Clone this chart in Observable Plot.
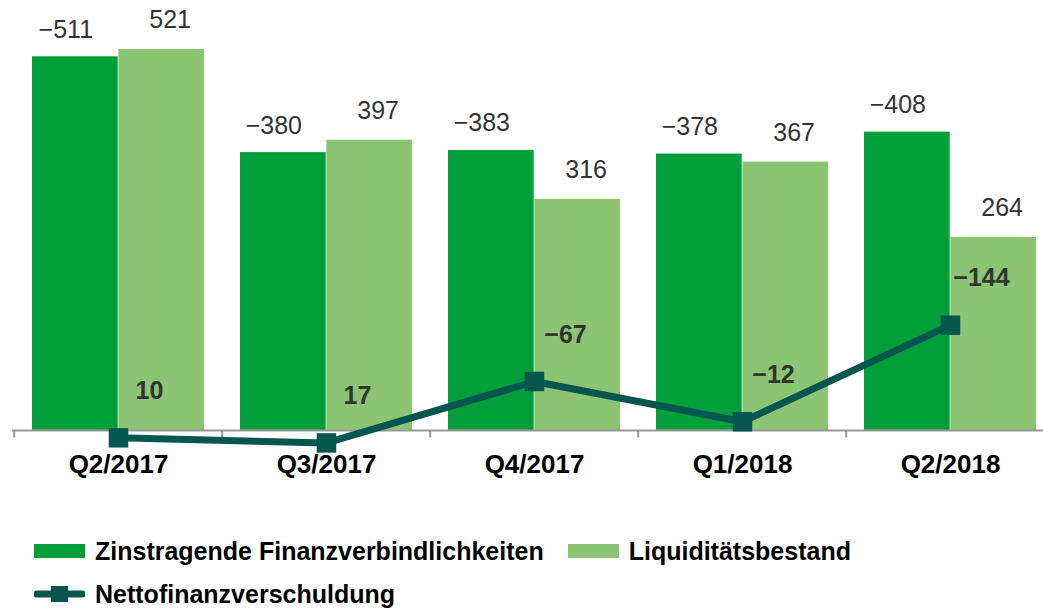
<!DOCTYPE html>
<html>
<head>
<meta charset="utf-8">
<script src="https://cdn.jsdelivr.net/npm/d3@7"></script>
<script src="https://cdn.jsdelivr.net/npm/@observablehq/plot@0.6"></script>
<style>
  body { margin: 0; background: #fff; font-family: "Liberation Sans", Arial, sans-serif; }
  #wrap { position: relative; width: 1043px; height: 608px; overflow: hidden; }
  #chart { position: absolute; left: 0; top: 0; }
  .legend { position: absolute; left: 34px; font-weight: bold; font-size: 25px; line-height: 28px; color: #000; display: flex; align-items: center; white-space: nowrap; }
  .sw { display: inline-block; width: 51px; height: 14px; margin-right: 10px; }
</style>
</head>
<body>
<div id="wrap">
  <div id="chart"></div>
  <div class="legend" style="top:537px">
    <span class="sw" style="background:#009f3a"></span><span>Zinstragende Finanzverbindlichkeiten</span>
    <span class="sw" style="background:#8bc473;margin-left:24px"></span><span>Liquiditätsbestand</span>
  </div>
  <div class="legend" style="top:580px">
    <svg width="51" height="20" style="margin-right:10px"><line x1="3" y1="10" x2="48" y2="10" stroke="#065650" stroke-width="7" stroke-linecap="round"/><rect x="17" y="2" width="17" height="16" fill="#065650"/></svg><span>Nettofinanzverschuldung</span>
  </div>
</div>
<script>
const quarters = ["Q2/2017", "Q3/2017", "Q4/2017", "Q1/2018", "Q2/2018"];
const debt = [-511, -380, -383, -378, -408];      // Zinstragende Finanzverbindlichkeiten
const liquidity = [521, 397, 316, 367, 264];      // Liquiditätsbestand
const netDebt = [10, 17, -67, -12, -144];         // Nettofinanzverschuldung

const fmt = v => (v < 0 ? "\u2212" + Math.abs(v) : String(v));
const rows = quarters.map((q, i) => ({q, debt: debt[i], liq: liquidity[i], net: netDebt[i]}));

const x0 = 12, x1 = 1055;
const bw = (x1 - x0) / quarters.length;
const pad = 18;
const half = bw / 2;

const chart = Plot.plot({
  width: 1043,
  height: 500,
  marginLeft: 12,
  marginRight: 0,
  marginTop: 0,
  marginBottom: 0,
  x: {type: "band", domain: quarters, range: [x0, x1], padding: 0, axis: null},
  y: {domain: [0, 588], range: [430, 0], axis: null},
  style: {fontFamily: "'Liberation Sans', Arial, sans-serif", background: "transparent"},
  marks: [
    Plot.barY(rows, {x: "q", y: d => Math.abs(d.debt), fill: "#009f3a", insetLeft: pad, insetRight: half}),
    Plot.barY(rows, {x: "q", y: "liq", fill: "#8bc473", insetLeft: half, insetRight: pad}),
    Plot.ruleY([0], {stroke: "#999", strokeWidth: 2}),
    Plot.ruleX(quarters, {x: d => d, y1: 0, y2: -10, stroke: "#999", strokeWidth: 2, dx: -half}),
    Plot.text(rows, {x: "q", y: d => Math.abs(d.debt), text: d => fmt(d.debt), dx: -(half - pad) / 2 - pad / 2 - 0.5, dy: -27, fontSize: 25, fill: "#333"}),
    Plot.text(rows, {x: "q", y: "liq", text: d => fmt(d.liq), dx: (half - pad) / 2 + pad / 2 - 0.5, dy: -29, fontSize: 25, fill: "#333"}),
    Plot.line(rows, {x: "q", y: d => -d.net, stroke: "#065650", strokeWidth: 7}),
    Plot.dot(rows, {x: "q", y: d => -d.net, symbol: "square", r: 11, fill: "#065650"}),
    Plot.text(rows, {x: "q", y: d => -d.net, text: d => fmt(d.net), dx: 31, dy: -47, fontSize: 25, fontWeight: "bold", fill: "#333"}),
    Plot.text(quarters, {x: d => d, y: 0, text: d => d, dy: 34, fontSize: 26, fontWeight: "bold", fill: "#000"})
  ]
});
document.getElementById("chart").appendChild(chart);
</script>
</body>
</html>
